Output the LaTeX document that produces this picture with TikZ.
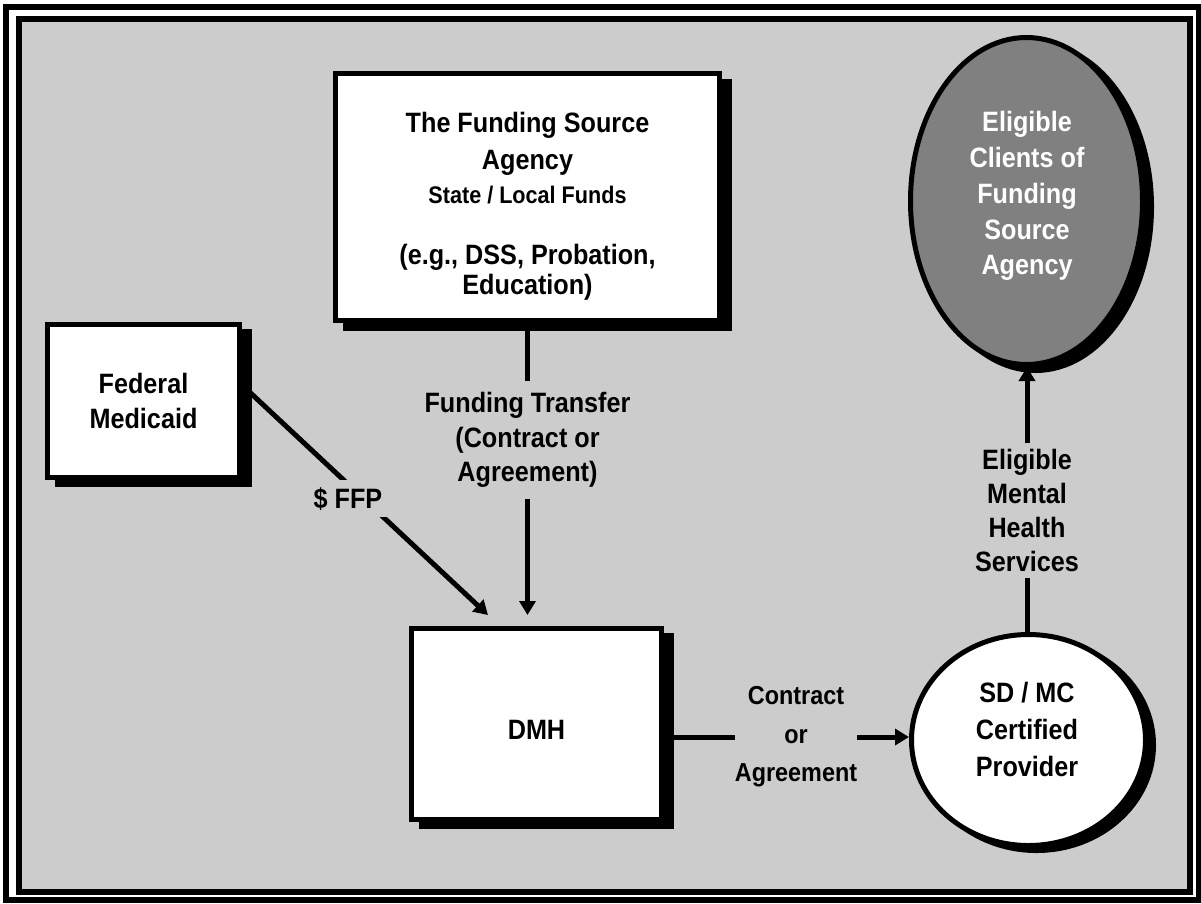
\documentclass[tikz,border=0pt]{standalone}
\usepackage{fontspec}
\setmainfont{Liberation Sans}[FakeStretch=0.9]
\usetikzlibrary{arrows.meta,shapes.geometric,shadows,calc}
\definecolor{bg}{HTML}{CCCCCC}
\definecolor{clientfill}{HTML}{808080}
\tikzset{
  lbl/.style={font=\fontsize{28}{35}\selectfont\bfseries, align=center, inner sep=0pt},
  boxshape/.style={rectangle, draw=black, line width=5pt, fill=white, inner sep=0pt,
    font=\fontsize{28}{35.5}\selectfont\bfseries, align=center},
  boxshadow/.style 2 args={general shadow={fill=black, draw=black, line width=5pt,
    shadow xshift=#1, shadow yshift=#2}},
  ovalshape/.style={ellipse, draw=black, line width=5pt, inner sep=0pt},
  conn/.style={line width=5pt, draw=black},
  arr/.style={conn, -{Triangle[length=14pt,width=16pt]}},
}
\begin{document}
\begin{tikzpicture}[x=1pt,y=-1pt]
\useasboundingbox (0,0) rectangle (1201,903);
\fill[white] (0,0) rectangle (1201,903);
\draw[line width=6pt] (6,7) rectangle (1198.5,899.5);
\draw[line width=6pt, fill=bg] (19,19) rectangle (1190,892);

% funding source agency
\node[boxshape, boxshadow={10pt}{-8pt}, minimum width=384pt, minimum height=247pt] (fs) at (527.5,197) {};
\node[lbl, font=\fontsize{28}{37}\selectfont\bfseries] (fs1) at (527.5,144.25) {The Funding Source\\Agency};
\node[lbl, font=\fontsize{24}{29}\selectfont\bfseries, anchor=base] (fs2) at (527.5,203) {State / Local Funds};
\node[lbl, font=\fontsize{28}{30}\selectfont\bfseries] (fs3) at (527.5,272.75) {(e.g., DSS, Probation,\\Education)};

% federal medicaid
\node[boxshape, boxshadow={10pt}{-7pt}, minimum width=192pt, minimum height=153pt] (fm) at (143.5,401) {Federal\\Medicaid};

% DMH
\node[boxshape, boxshadow={10pt}{-7pt}, minimum width=250pt, minimum height=191pt, text height=30pt] (dmh) at (536.5,724) {DMH};

% eligible clients
\node[ovalshape, fill=clientfill, boxshadow={9pt}{-6pt}, minimum width=232pt, minimum height=327pt] (clients) at (1026.5,201) {};
\node[lbl, text=white, font=\fontsize{28}{35.75}\selectfont\bfseries] (clientstxt) at (1027,196.25) {Eligible\\Clients of\\Funding\\Source\\Agency};

% provider
\node[ovalshape, fill=white, boxshadow={8pt}{-5pt}, minimum width=234pt, minimum height=211pt] (prov) at (1028.5,740) {};
\node[lbl, font=\fontsize{28}{37}\selectfont\bfseries] (provtxt) at (1027,729.8) {SD / MC\\Certified\\Provider};

% connector labels
\node[lbl, font=\fontsize{28}{34.5}\selectfont\bfseries, inner ysep=11pt] (ft) at (527.5,440.25) {Funding Transfer\\(Contract or\\Agreement)};
\node[lbl, font=\fontsize{28}{34}\selectfont\bfseries, inner ysep=6pt] (ems) at (1027,510.8) {Eligible\\Mental\\Health\\Services};
\node[lbl, font=\fontsize{26}{38.5}\selectfont\bfseries] (ca) at (796,737) {Contract\\or\\Agreement};

% connectors
\draw[conn] (fs.south) -- (ft.north);
\draw[arr, shorten >=11pt] (ft.south) -- (ft.south |- dmh.north);
\draw[conn] (ca.west -| dmh.east) -- (ca.west);
\draw[arr] (ca.east) -- (ca.east -| prov.west);
\draw[conn] (prov.north -| ems.south) -- (ems.south);
\draw[arr] (ems.north) -- (ems.north |- clients.south);
\draw[arr] ($(fm.east)+(0,-16)$) -- ($(dmh.north west)+(79,-11)$);
\node[lbl, fill=bg, inner sep=7pt, anchor=base] (ffp) at (348,508) {\$ FFP};
\end{tikzpicture}
\end{document}
